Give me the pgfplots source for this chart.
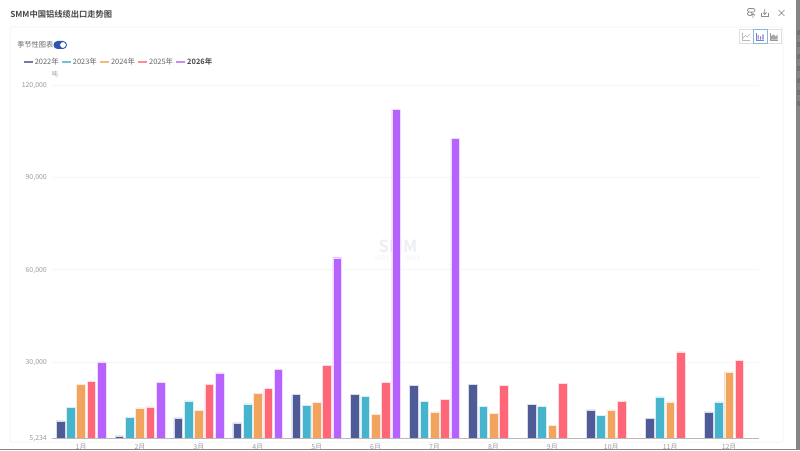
\documentclass[border=0pt]{standalone}
\usepackage{fontspec}
\setmainfont{Noto Sans CJK SC}
\newfontfamily\boldcjk{Noto Sans CJK SC Bold}
\usepackage{pgfplots}
\pgfplotsset{compat=1.18}
\usepackage{pgfplotstable}
\definecolor{cA}{HTML}{4E5B97}
\definecolor{cB}{HTML}{46B4CD}
\definecolor{cC}{HTML}{F2A45F}
\definecolor{cD}{HTML}{FF6678}
\definecolor{cE}{HTML}{B562FF}
\definecolor{lA}{HTML}{7079AA}
\definecolor{lB}{HTML}{6CC4D8}
\definecolor{lC}{HTML}{F5B67E}
\definecolor{lD}{HTML}{FF8B98}
\definecolor{lE}{HTML}{C78AFF}
\definecolor{txt}{HTML}{666666}
\definecolor{tick}{HTML}{9C9CA4}
\definecolor{grid}{HTML}{F6F6F9}
\definecolor{frame}{HTML}{F2F2F4}
\definecolor{back}{HTML}{858585}
\definecolor{wm}{HTML}{EDEFF4}
\pgfplotstableread{
m v22 v23 v24 v25
0 10866 15306 22670 23645
1 5992 12057 15089 15414
2 11840 17364 14223 22779
3 10216 16389 19854 21479
4 19421 15847 16930 28952
5 19530 18772 12923 23428
6 22454 17255 13790 17797
7 22779 15522 13356 22454
8 16172 15631 9458 23104
9 14439 12707 14439 17255
10 11732 18663 17039 33284
11 13790 17039 26786 30468
}\monthly
\pgfplotstableread{
m v26
0 30034
1 23428
2 26461
3 27652
4 63900
5 112200
6 102700
}\latest
\begin{document}
\begin{tikzpicture}
\useasboundingbox (0,0) rectangle (600pt,337.5pt);
\fill[white] (0,0) rectangle (600pt,337.5pt);
\begin{scope}[x=0.75pt,y=-0.75pt,yshift=337.5pt]
  % window edge
  \fill[back] (796,0) rectangle (800,450);
  \fill[back] (0,449) rectangle (800,450);
  \foreach \yy in {30,42,54,66,78,90,101}{\fill[black!55] (797,\yy) rectangle (800,\yy+5);}
  % panel
  \draw[frame,line width=0.6pt,rounded corners=1.5pt] (10,27) rectangle (783,442);
  % title
  \node[anchor=west,inner sep=0pt,text=black!72,font=\boldcjk\fontsize{6.2pt}{7pt}\selectfont] at (10,14.5) {SMM中国铝线缆出口走势图};
  % seasonal toggle
  \node[anchor=west,inner sep=0pt,text=txt,font=\fontsize{5.4pt}{6pt}\selectfont] at (17,45) {季节性图表};
  \fill[rounded corners=3pt,fill={rgb,255:red,47;green,84;blue,178}] (53.5,41) rectangle (67,49);
  \fill[white] (63,45) circle (2.9);
  % unit
  \node[inner sep=0pt,text=tick,font=\fontsize{4.6pt}{5pt}\selectfont] at (55,74) {吨};
  % chart type buttons
  \draw[frame!92!black,line width=0.5pt] (739,29.5) rectangle (753,43);
  \draw[frame!92!black,line width=0.5pt] (767,29.5) rectangle (781,43);
  \draw[black!28,line width=0.4pt] (742,33) -- (742,40) -- (750,40);
  \draw[black!28,line width=0.4pt] (743,38) -- (745.5,35.5) -- (747,37) -- (750,34);
  \draw[blue!50!cyan!70!black!45,line width=0.6pt] (753,29) rectangle (767,43.5);
  \draw[blue!60!black!50,line width=0.4pt] (756,33) -- (756,40) -- (764,40);
  \fill[blue!60!black!50] (757.5,35) rectangle (758.7,39.6) (760,36.5) rectangle (761.2,39.6) (762.3,34.5) rectangle (763.5,39.6);
  \draw[black!40,line width=0.4pt] (770,33) -- (770,40) -- (778,40);
  \fill[black!35] (771,39.6) -- (771,36) -- (773.5,34.5) -- (775.5,36.5) -- (777.7,34.5) -- (777.7,39.6) -- cycle;
  % header icons
  \draw[black!45,line width=0.5pt,rounded corners=1pt] (747.5,8.5) rectangle (755,12) (747.5,12) rectangle (752,15.5);
  \draw[black!45,line width=0.5pt] (753,18) -- (753,14) (751,15.5) -- (753,13.5) -- (755,15.5);
  \draw[black!45,line width=0.5pt] (761,13) -- (761,16.5) -- (768.5,16.5) -- (768.5,13);
  \draw[black!45,line width=0.5pt] (764.7,9) -- (764.7,14.5) (762.8,12.5) -- (764.7,14.5) -- (766.6,12.5);
  \draw[black!50,line width=0.5pt] (778.5,10) -- (784.5,16) (784.5,10) -- (778.5,16);
  % watermark
  \node[inner sep=0pt,text=wm,font=\boldcjk\fontsize{12.5pt}{13pt}\selectfont] at (398,246) {SMM};
  \node[inner sep=0pt,text=black!5,font=\fontsize{5pt}{5pt}\selectfont] at (397,258) {1992\hspace{12pt}9903};
\end{scope}
\begin{axis}[
  at={(38.7pt,8.78pt)}, anchor=south west,
  scale only axis,
  width=530.2pt, height=264.9pt,
  xmin=-0.5, xmax=11.5,
  ymin=5234, ymax=120000,
  axis lines*=left,
  axis line style={draw=none},
  y axis line style={draw=none},
  xtick={0,1,2,3,4,5,6,7,8,9,10,11},
  xticklabels={1月,2月,3月,4月,5月,6月,7月,8月,9月,10月,11月,12月},
  ytick={5234,30000,60000,90000,120000},
  major tick length=0pt,
  tick style={draw=none},
  ymajorgrids,
  grid style={draw=grid,line width=0.6pt},
  /pgf/number format/assume math mode=true,
  /pgf/number format/fixed,
  /pgf/number format/precision=0,
  /pgf/number format/1000 sep={,},
  scaled y ticks=false,
  tick label style={text=tick,font=\fontsize{5.2pt}{5.5pt}\selectfont,inner sep=0pt},
  xticklabel style={yshift=-4pt},
  yticklabel style={xshift=-3.4pt,yshift=-0.5pt},
  clip=false,
  ybar, bar width=6.5pt,
  legend style={draw=none,fill=none,at={(-0.0395,1.0655)},anchor=west,legend columns=5,
    font=\fontsize{5.6pt}{6pt}\selectfont,text=txt,inner sep=0pt,outer sep=0pt,
    /tikz/every even column/.style={column sep=0.2pt}},
  legend cell align=left,
]
\addplot[bar shift=-15.45pt,fill=cA,draw=cA!22,line width=0.35pt,
  legend image code/.code={\fill[lA] (0,-0.4pt) rectangle (6pt,0.4pt);}] table[x=m,y=v22] {\monthly};
\addlegendentry{2022年}
\addplot[bar shift=-7.725pt,fill=cB,draw=cB!22,line width=0.35pt,
  legend image code/.code={\fill[lB] (0,-0.4pt) rectangle (6pt,0.4pt);}] table[x=m,y=v23] {\monthly};
\addlegendentry{2023年}
\addplot[bar shift=0pt,fill=cC,draw=cC!22,line width=0.35pt,
  legend image code/.code={\fill[lC] (0,-0.4pt) rectangle (6pt,0.4pt);}] table[x=m,y=v24] {\monthly};
\addlegendentry{2024年}
\addplot[bar shift=7.725pt,fill=cD,draw=cD!22,line width=0.35pt,
  legend image code/.code={\fill[lD] (0,-0.4pt) rectangle (6pt,0.4pt);}] table[x=m,y=v25] {\monthly};
\addlegendentry{2025年}
\addplot[bar shift=15.45pt,fill=cE,draw=cE!22,line width=0.35pt,
  legend image code/.code={\fill[lE] (0,-0.4pt) rectangle (6pt,0.4pt);}] table[x=m,y=v26] {\latest};
\addlegendentry{{\boldcjk\color{black!72}2026年}}
\draw[draw=black!28,line width=0.75pt] (rel axis cs:0,0) -- (rel axis cs:1,0);
\end{axis}
\end{tikzpicture}
\end{document}
